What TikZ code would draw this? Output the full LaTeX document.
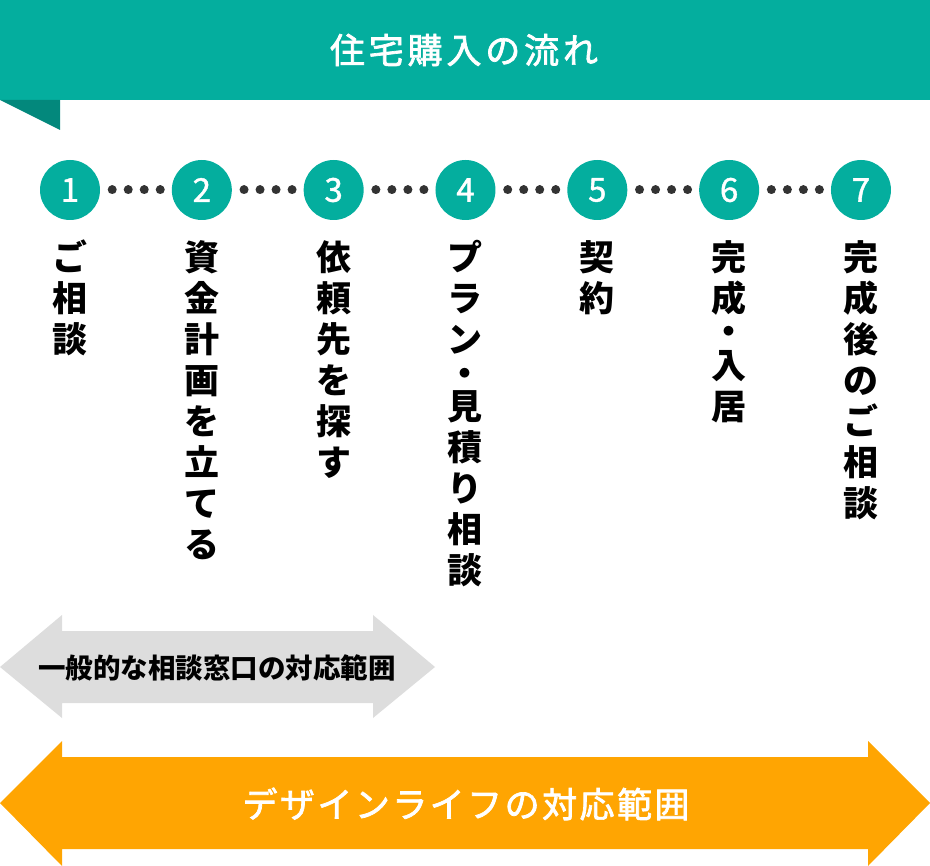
\documentclass[tikz,border=0pt]{standalone}
\usepackage{fontspec}
\newfontfamily\jp{Noto Sans CJK JP}
\definecolor{tealA}{HTML}{04AE9E}
\definecolor{tealD}{HTML}{03887C}
\definecolor{grayA}{HTML}{DDDDDD}
\definecolor{orangeA}{HTML}{FFA502}
\definecolor{dotc}{HTML}{333333}
\begin{document}
\begin{tikzpicture}[x=1pt,y=-1pt,
  stepnum/.style={circle,fill=tealA,minimum size=60pt,inner sep=0pt,text=white,font=\jp\fontsize{33}{33}\selectfont\addfontfeature{FakeBold=1.2}},
  vlabel/.style={anchor=north,inner sep=0pt,align=center,font=\jp\bfseries\fontsize{35}{41}\selectfont},
  dotline/.style={dotc,line width=9pt,line cap=round,dash pattern=on 0.01pt off 16pt,dash phase=4pt}
]
\useasboundingbox (0,0) rectangle (930,866);
% banner
\fill[tealA] (0,0) rectangle (930,100);
\fill[tealD] (0,100) -- (60,100) -- (60,130) -- cycle;
\node[text=white,inner sep=0pt,font=\jp\fontsize{35}{35}\selectfont\addfontfeature{LetterSpace=11,FakeBold=2}] (title) at (464,50) {住宅購入の流れ};
% steps
\foreach \i in {1,...,7}{
  \node[stepnum] (c\i) at ({70+131.83*(\i-1)},190) {\i};
}
\foreach \i/\j in {1/2,2/3,3/4,4/5,5/6,6/7}{
  \draw[dotline] (c\i.east) -- (c\j.west);
}
% vertical labels
\node[vlabel] (l1) at (c1.center |- 0,240) {ご\\相\\談};
\node[vlabel] (l2) at (c2.center |- 0,240) {資\\金\\計\\画\\を\\立\\て\\る};
\node[vlabel] (l3) at (c3.center |- 0,240) {依\\頼\\先\\を\\探\\す};
\node[vlabel] (l4) at (c4.center |- 0,240) {プ\\ラ\\ン\\[-7.5pt]・\\[-7.5pt]見\\積\\り\\相\\談};
\node[vlabel] (l5) at (c5.center |- 0,240) {契\\約};
\node[vlabel] (l6) at (c6.center |- 0,240) {完\\成\\[-7.5pt]・\\[-7.5pt]入\\居};
\node[vlabel] (l7) at (c7.center |- 0,240) {完\\成\\後\\の\\ご\\相\\談};
% gray arrow
\fill[grayA] (0,667) -- (62,615) -- (62,631) -- (373,631) -- (373,615) -- (435,667)
  -- (373,718) -- (373,703) -- (62,703) -- (62,718) -- cycle;
\node[inner sep=0pt,font=\jp\bfseries\fontsize{27.5}{27.5}\selectfont] (g) at (217,668) {一般的な相談窓口の対応範囲};
% orange arrow
\fill[orangeA] (0,803) -- (62,741) -- (62,757) -- (868,757) -- (868,741) -- (930,803)
  -- (868,866) -- (868,849) -- (62,849) -- (62,866) -- cycle;
\node[text=white,inner sep=0pt,font=\jp\fontsize{35}{35}\selectfont\addfontfeature{LetterSpace=7,FakeBold=2}] (o) at (466,804) {デザインライフの対応範囲};
\end{tikzpicture}
\end{document}
